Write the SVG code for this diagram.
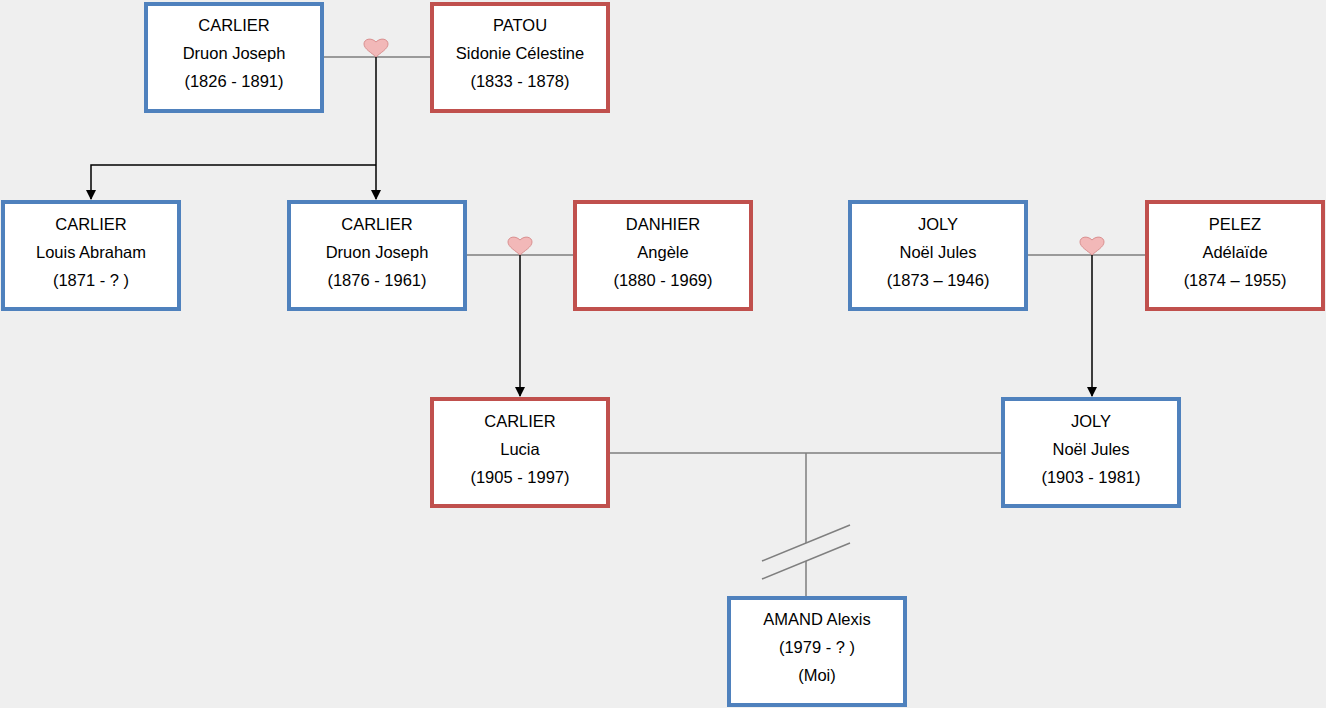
<svg xmlns="http://www.w3.org/2000/svg" width="1326" height="708" viewBox="0 0 1326 708">
<style>
.b{fill:#fff;stroke-width:4}
.m{stroke:#4F81BD}.f{stroke:#C0504D}
text{font-family:"Liberation Sans",Arial,sans-serif;font-size:16.5px;fill:#000;text-anchor:middle}
.c{stroke:#7f7f7f;stroke-width:1.5;fill:none}
.a{stroke:#000;stroke-width:1.5;fill:none;marker-end:url(#ar)}
.h{fill:#f2b8b8;stroke:#d99090;stroke-width:1}
</style>
<defs>
<marker id="ar" markerWidth="10" markerHeight="10" refX="9" refY="5" orient="auto" markerUnits="userSpaceOnUse"><path d="M0,0L10,5L0,10z" fill="#000"/></marker>
<path id="heart" d="M0,8 C-4,4 -12,0 -12,-5 C-12,-10 -5,-12 0,-7 C5,-12 12,-10 12,-5 C12,0 4,4 0,8z"/>
</defs>
<rect width="1326" height="708" fill="#efefef"/>
<g id="connectors">
<path class="c" d="M322,57H432M465,255H574M1026,255H1146M608,453H1003M806,453V543M806,561V597"/>
<path class="c" stroke="#333" d="M762,561L850,525M762,579L850,543"/>
<path class="a" d="M376,57V199"/>
<path class="a" d="M376,165H91V199"/>
<path class="a" d="M520,255V396"/>
<path class="a" d="M1092,255V396"/>
<use href="#heart" class="h" x="376" y="49"/>
<use href="#heart" class="h" x="520" y="247"/>
<use href="#heart" class="h" x="1092" y="247"/>
</g>
<g id="n1"><rect class="b m" x="146" y="4" width="176" height="107"/><text x="234" y="31">CARLIER</text><text x="234" y="59">Druon Joseph</text><text x="234" y="87">(1826 - 1891)</text></g>
<g id="n2"><rect class="b f" x="432" y="4" width="176" height="107"/><text x="520" y="31">PATOU</text><text x="520" y="59">Sidonie Célestine</text><text x="520" y="87">(1833 - 1878)</text></g>
<g id="n3"><rect class="b m" x="3" y="202" width="176" height="107"/><text x="91" y="230">CARLIER</text><text x="91" y="258">Louis Abraham</text><text x="91" y="286">(1871 - ? )</text></g>
<g id="n4"><rect class="b m" x="289" y="202" width="176" height="107"/><text x="377" y="230">CARLIER</text><text x="377" y="258">Druon Joseph</text><text x="377" y="286">(1876 - 1961)</text></g>
<g id="n5"><rect class="b f" x="575" y="202" width="176" height="107"/><text x="663" y="230">DANHIER</text><text x="663" y="258">Angèle</text><text x="663" y="286">(1880 - 1969)</text></g>
<g id="n6"><rect class="b m" x="850" y="202" width="176" height="107"/><text x="938" y="230">JOLY</text><text x="938" y="258">Noël Jules</text><text x="938" y="286">(1873 – 1946)</text></g>
<g id="n7"><rect class="b f" x="1147" y="202" width="176" height="107"/><text x="1235" y="230">PELEZ</text><text x="1235" y="258">Adélaïde</text><text x="1235" y="286">(1874 – 1955)</text></g>
<g id="n8"><rect class="b f" x="432" y="399" width="176" height="107"/><text x="520" y="427">CARLIER</text><text x="520" y="455">Lucia</text><text x="520" y="483">(1905 - 1997)</text></g>
<g id="n9"><rect class="b m" x="1003" y="399" width="176" height="107"/><text x="1091" y="427">JOLY</text><text x="1091" y="455">Noël Jules</text><text x="1091" y="483">(1903 - 1981)</text></g>
<g id="n10"><rect class="b m" x="729" y="598" width="176" height="107"/><text x="817" y="625">AMAND Alexis</text><text x="817" y="653">(1979 - ? )</text><text x="817" y="681">(Moi)</text></g>
</svg>
